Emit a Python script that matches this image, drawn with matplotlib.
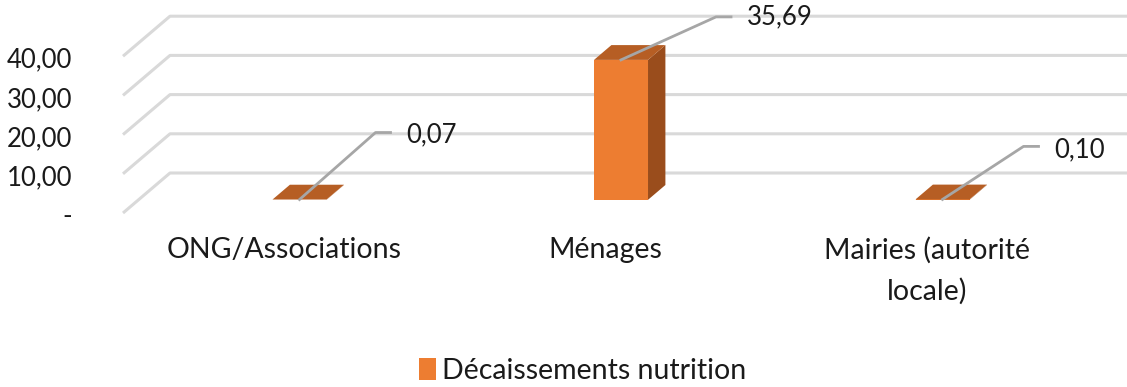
import matplotlib.pyplot as plt
from matplotlib.patches import Polygon, Patch

categories = ["ONG/Associations", "Ménages", "Mairies (autorité\nlocale)"]
values = [0.07, 35.69, 0.10]
value_labels = ["0,07", "35,69", "0,10"]
yticks = [0, 10, 20, 30, 40]
ytick_labels = ["-", "10,00", "20,00", "30,00", "40,00"]
series_name = "Décaissements nutrition"

plt.rcParams['font.family'] = ['Lato', 'DejaVu Sans']

W, H = 1127, 387
px_x = 321.5          # pixels per category step
px_v = 3.92           # pixels per value unit
fig = plt.figure(figsize=(W / 100, H / 100), dpi=100)
ax = fig.add_axes([0, 0, 1, 1])
# category 0 sits at x=284 px on the front plane, value 0 at 174 px from the bottom
ax.set_xlim(-284 / px_x, (W - 284) / px_x)
ax.set_ylim(-174 / px_v, (H - 174) / px_v)
ax.axis('off')

# depth of the floor (front plane -> back wall)
dx_full = 47 / px_x
dv_full = 40 / px_v


def proj(x, v, d):
    return x + d * dx_full, v + d * dv_full


# walls: diagonal side line + horizontal gridline on the back wall
grid_c = '#d9d9d9'
x_left = (123 - 284) / px_x
for t, lab in zip(yticks, ytick_labels):
    x0, v0 = proj(x_left, t, 0)
    x1, v1 = proj(x_left, t, 1)
    ax.plot([x0, x1, 4], [v0, v1, v1], color=grid_c, lw=2.2,
            solid_capstyle='butt', zorder=1)
    ax.text(x_left - 51 / px_x, t - 1, lab,
            ha='right', va='center', fontsize=18.5, color='#1a1a1a')

# 3d bars
front_c, top_c, side_c = '#ED7D31', '#B65E24', '#9A4D1C'
bw = 54 / px_x
d0, d1 = 0.33, 0.70
for i, v in enumerate(values):
    xl = i - bw / 2
    xr = i + bw / 2
    fl = proj(xl, 0, d0)
    fr = proj(xr, 0, d0)
    ftl = proj(xl, v, d0)
    ftr = proj(xr, v, d0)
    btl = proj(xl, v, d1)
    btr = proj(xr, v, d1)
    br = proj(xr, 0, d1)
    ax.add_patch(Polygon([fl, fr, ftr, ftl], closed=True, fc=front_c, ec='none', zorder=3))
    ax.add_patch(Polygon([fr, br, btr, ftr], closed=True, fc=side_c, ec='none', zorder=3))
    ax.add_patch(Polygon([ftl, ftr, btr, btl], closed=True, fc=top_c, ec='none', zorder=4))

# value labels with elbow leader lines (offsets in pixels)
leader = [(76, 67), (95, 43), (81, 53)]
text_dy = [-2, 0, -3]
for i, v in enumerate(values):
    sx, sv = proj(i, v, d0)
    ex = sx + leader[i][0] / px_x
    ev = sv + leader[i][1] / px_v
    hx = ex + 15 / px_x
    ax.plot([sx, ex, hx], [sv, ev, ev], color='#a6a6a6', lw=2, zorder=5)
    ax.text(hx + 16 / px_x, ev + text_dy[i] / px_v, value_labels[i],
            ha='left', va='center', fontsize=18.5, color='#1a1a1a', zorder=6)

# category labels
for i, c in enumerate(categories):
    ax.text(i, -24 / px_v, c, ha='center', va='top', fontsize=20.5,
            color='#1a1a1a', linespacing=1.65)

leg = ax.legend(handles=[Patch(fc=front_c, ec='none', label=series_name)],
                loc='center', bbox_to_anchor=(0.517, 0.042), frameon=False,
                fontsize=20.5, handlelength=0.6, handleheight=0.85,
                handletextpad=0.2)
for t in leg.get_texts():
    t.set_color('#1a1a1a')

fig.savefig('out.png', dpi=100)
